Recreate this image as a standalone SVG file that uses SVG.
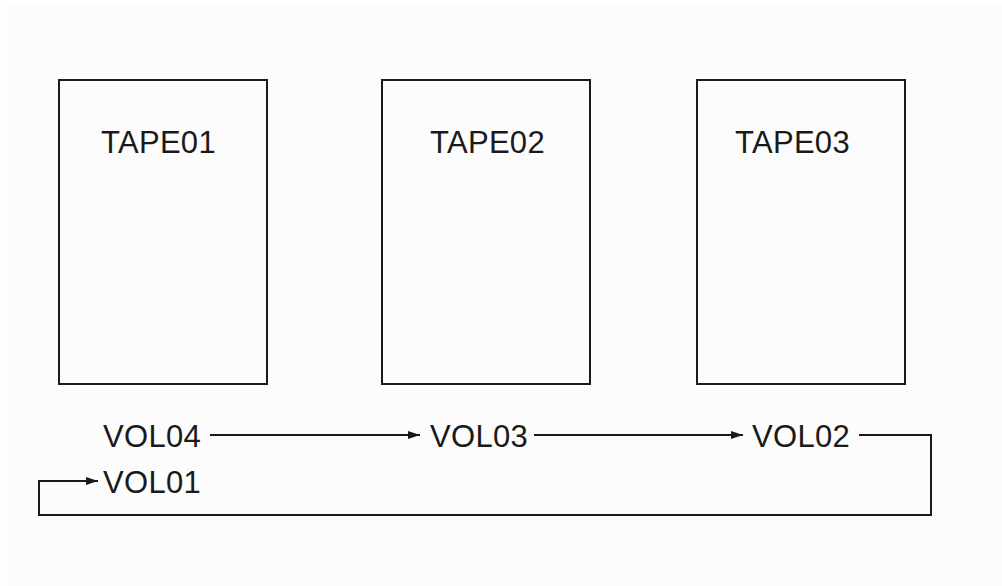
<svg xmlns="http://www.w3.org/2000/svg" width="1002" height="586" viewBox="0 0 1002 586">
<style>
.box{fill:none;stroke:#1a1a1a;stroke-width:2}
.lbl{font-family:"Liberation Sans",Arial,sans-serif;font-size:31px;fill:#1a1a1a;letter-spacing:0.3px}
.conn{fill:none;stroke:#1a1a1a;stroke-width:2}
</style>
<defs>
<marker id="arr" viewBox="0 0 12 10" refX="12" refY="5" markerWidth="12" markerHeight="10" markerUnits="userSpaceOnUse" orient="auto">
<path d="M0,1 L12,5 L0,9 z" fill="#1a1a1a"/>
</marker>
</defs>
<rect x="0" y="0" width="1002" height="586" fill="#ffffff"/>
<rect x="7" y="4" width="995" height="582" fill="#fcfcfc"/>
<g id="tape01"><rect class="box" x="59" y="80" width="208" height="304"/><text class="lbl" x="101" y="153">TAPE01</text></g>
<g id="tape02"><rect class="box" x="382" y="80" width="208" height="304"/><text class="lbl" x="430" y="153">TAPE02</text></g>
<g id="tape03"><rect class="box" x="697" y="80" width="208" height="304"/><text class="lbl" x="735" y="153">TAPE03</text></g>
<g id="vol04"><text class="lbl" x="103" y="447">VOL04</text></g>
<g id="vol03"><text class="lbl" x="430" y="447">VOL03</text></g>
<g id="vol02"><text class="lbl" x="752" y="447">VOL02</text></g>
<g id="vol01"><text class="lbl" x="103" y="493">VOL01</text></g>
<g id="connectors">
<path class="conn" d="M210,435 H420" marker-end="url(#arr)"/>
<path class="conn" d="M534,435 H743" marker-end="url(#arr)"/>
<path class="conn" d="M859,435 H931 V515 H39 V481 H98" marker-end="url(#arr)"/>
</g>
</svg>
